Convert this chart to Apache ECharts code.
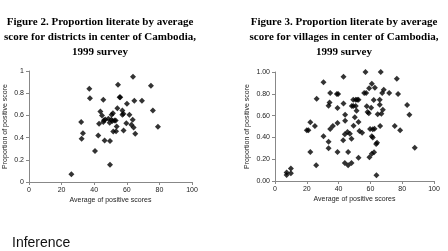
<!DOCTYPE html>
<html>
<head>
<meta charset="utf-8">
<script src="https://cdn.jsdelivr.net/npm/echarts@6/dist/echarts.min.js"></script>
<style>
  html, body { margin: 0; padding: 0; background: #fff; }
  #main { width: 448px; height: 251px; }
</style>
</head>
<body>
<div id="main"></div>
<script>
// Figure 2: districts (average score, proportion)
var districtScore = [26, 32, 32.3, 33.1, 37, 37.4, 40.5, 42.5, 43, 43.8, 44.8, 45.6, 45.6, 46, 46.4, 46.8,
    48.7, 49.5, 49.7, 49.7, 50.5, 50.7, 51.1, 51.5, 51.7, 52.4, 53.2, 53.4, 53.8, 54.2, 54.6, 55.6, 56,
    57.3, 57.3, 57.9, 58, 59.7, 60.1, 61.6, 62.8, 63.6, 63.8, 64.2, 64.6, 65.2, 69.3, 74.8, 76, 79.1];
var districtProp = [0.07, 0.54, 0.39, 0.44, 0.84, 0.755, 0.28, 0.42, 0.525, 0.635, 0.6, 0.74, 0.54, 0.557, 0.374, 0.563,
    0.57, 0.533, 0.37, 0.156, 0.56, 0.605, 0.55, 0.62, 0.455, 0.554, 0.554, 0.458, 0.5, 0.665, 0.877, 0.763, 0.763,
    0.644, 0.605, 0.614, 0.464, 0.53, 0.704, 0.605, 0.515, 0.56, 0.949, 0.49, 0.733, 0.434, 0.733, 0.868, 0.644, 0.497];

// Figure 3: villages
var villageScore = [7.3, 7.3, 10, 10, 20, 21, 22.2, 25.1, 22.2, 26.2, 25.9, 30.5, 30.5, 33.7, 33.7, 33.7, 34.3, 34.7,
    34.7, 36.4, 38.9, 39.7, 39.3, 39.3, 39.3, 43.1, 43.1, 42.9, 44.1, 44.1, 43.9, 43.9, 45.6, 46, 46, 47.1, 48.1,
    48.1, 48.3, 49.2, 49.2, 49.4, 50.2, 50.8, 51.7, 52.5, 50.8, 51.3, 52.5, 52.5, 53.1, 54.8, 56.9, 56.1, 57.3,
    57.7, 58.2, 59, 59.2, 59.4, 59.8, 60.5, 60.9, 60.9, 61.5, 60.9, 62.3, 62.1, 62.6, 61.5, 62.8, 63.8, 64.2, 63.6,
    64.6, 65.9, 65.9, 66.1, 66.5, 66.9, 67.4, 67.8, 68.4, 71.8, 75.3, 76.6, 77.4, 78.7, 83.1, 84.5, 87.9];
var villageProp = [0.077, 0.055, 0.114, 0.07, 0.465, 0.465, 0.54, 0.505, 0.266, 0.755, 0.144, 0.905, 0.41, 0.36, 0.3, 0.69,
    0.72, 0.807, 0.477, 0.505, 0.798, 0.798, 0.67, 0.532, 0.266, 0.957, 0.71, 0.373, 0.608, 0.553, 0.43, 0.165,
    0.45, 0.266, 0.144, 0.434, 0.388, 0.165, 0.688, 0.688, 0.746, 0.508, 0.584, 0.746, 0.746, 0.746, 0.688, 0.645,
    0.541, 0.214, 0.459, 0.443, 1.0, 0.807, 0.807, 0.685, 0.633, 0.621, 0.85, 0.217, 0.477, 0.673, 0.893, 0.41,
    0.398, 0.25, 0.263, 0.743, 0.48, 0.474, 0.856, 0.052, 0.352, 0.34, 0.612, 0.746, 0.70, 0.505, 1.0, 0.618,
    0.807, 0.654, 0.838, 0.807, 0.505, 0.939, 0.798, 0.465, 0.697, 0.608, 0.306];

var xTicks = [0, 20, 40, 60, 80, 100];

function pairs(xs, ys) {
    var out = [];
    for (var i = 0; i < xs.length; i++) out.push([xs[i], ys[i]]);
    return out;
}

var axisFont = { color: '#222', fontSize: 7, fontFamily: 'Liberation Sans' };
var lineStyle = { color: '#888', width: 1 };

function xAxisFor(idx) {
    return {
        gridIndex: idx, type: 'value', min: 0, max: 100, interval: 20,
        name: 'Average of positive scores', nameLocation: 'middle', nameGap: 15,
        nameTextStyle: axisFont,
        axisLine: { show: true, lineStyle: lineStyle },
        axisTick: { show: true, length: 3, lineStyle: lineStyle },
        axisLabel: Object.assign({ margin: 5 }, axisFont),
        splitLine: { show: false }
    };
}

function yAxisFor(idx, digits, gap) {
    return {
        gridIndex: idx, type: 'value', min: 0, max: 1, interval: 0.2,
        name: 'Proportion of positive score', nameLocation: 'middle', nameGap: gap,
        nameTextStyle: axisFont,
        axisLine: { show: true, lineStyle: lineStyle },
        axisTick: { show: true, length: 3, lineStyle: lineStyle },
        axisLabel: Object.assign({
            margin: 5,
            formatter: function (v) { return digits ? v.toFixed(digits) : String(+v.toFixed(1)); }
        }, axisFont),
        splitLine: { show: false }
    };
}

var titleFont = { fontFamily: 'Liberation Serif', fontWeight: 'bold', fontSize: 11, lineHeight: 15, color: '#000' };

var option = {
    animation: false,
    backgroundColor: '#fff',
    title: [
        { text: 'Figure 2. Proportion literate by average\nscore for districts in center of Cambodia,\n1999 survey',
          left: 95, top: 10, textAlign: 'center', textStyle: titleFont },
        { text: 'Figure 3. Proportion literate by average\nscore for villages in center of Cambodia,\n1999 survey',
          left: 339, top: 10, textAlign: 'center', textStyle: titleFont }
    ],
    graphic: [
        { type: 'text', left: 12, top: 236,
          style: { text: 'Inference', fontFamily: 'Liberation Sans', fontSize: 14, fill: '#111' } }
    ],
    grid: [
        { left: 29, top: 71, width: 163, height: 111 },
        { left: 275, top: 72, width: 159, height: 109 }
    ],
    xAxis: [xAxisFor(0), xAxisFor(1)],
    yAxis: [yAxisFor(0, 0, 20), yAxisFor(1, 2, 24)],
    series: [
        { type: 'scatter', xAxisIndex: 0, yAxisIndex: 0, symbol: 'diamond', symbolSize: 6,
          itemStyle: { color: '#000' }, data: pairs(districtScore, districtProp) },
        { type: 'scatter', xAxisIndex: 1, yAxisIndex: 1, symbol: 'diamond', symbolSize: 6,
          itemStyle: { color: '#000' }, data: pairs(villageScore, villageProp) }
    ]
};

var myChart = echarts.init(document.getElementById('main'));
myChart.setOption(option);
</script>
</body>
</html>
